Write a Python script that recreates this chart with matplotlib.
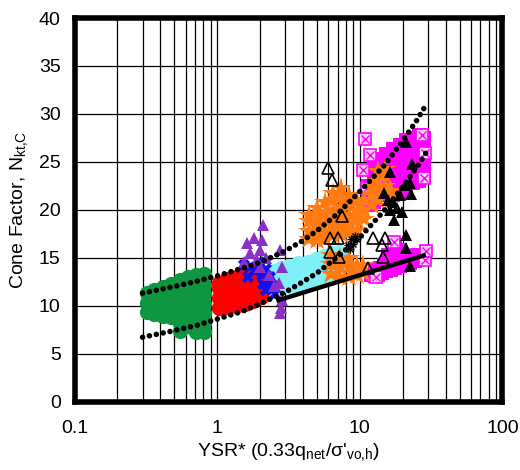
import numpy as np
import matplotlib
matplotlib.use("Agg")
import matplotlib.pyplot as plt
from matplotlib.ticker import LogLocator

plt.rcParams['font.family'] = ['Liberation Sans', 'DejaVu Sans']
plt.rcParams['mathtext.fontset'] = 'custom'
plt.rcParams['mathtext.rm'] = 'Liberation Sans'
plt.rcParams['mathtext.default'] = 'regular'

# site data, grouped as (YSR*, [N_kt,C values]) columns
green_cols = [
    (0.32, [9.3, 10.3, 11.3]),
    (0.36, [9.1, 10.1, 11.1, 11.6]),
    (0.416, [8.9, 9.9, 10.9, 11.9]),
    (0.474, [8.8, 9.8, 10.8, 11.8, 12.3]),
    (0.55, [7.4, 8.2, 9.2, 10.2, 11.2, 12.2, 12.7]),
    (0.62, [7.9, 8.6, 9.3, 10.3, 11.3, 12.3, 13.0]),
    (0.71, [7.3, 8.1, 9.1, 10.1, 11.1, 12.1, 13.2]),
    (0.81, [7.3, 8.2, 9.2, 10.2, 11.2, 12.2, 13.3]),
]
red_cols = [
    (1.03, [9.8, 10.8, 11.8, 12.4]),
    (1.18, [9.9, 10.9, 11.9, 12.8]),
    (1.36, [10.0, 11.0, 12.0, 13.0]),
    (1.56, [10.2, 11.2, 12.2, 13.1]),
    (1.79, [10.5, 11.5, 12.5, 13.5]),
    (2.02, [10.9, 11.9, 12.9]),
]
cyan_cols = [
    (2.5, [12.8, 13.6]),
    (2.8, [12.2, 13.0, 13.9]),
    (3.2, [12.0, 12.9, 14.1]),
    (3.7, [12.1, 13.1, 14.4]),
    (4.3, [12.3, 13.3, 14.6]),
    (4.9, [12.5, 13.5, 14.9]),
    (5.6, [12.8, 13.8, 15.2]),
    (6.4, [13.3, 14.3, 15.5]),
    (7.2, [14.5, 15.6]),
]
orange_cols = [
    (4.4, [17.0, 17.8, 18.8, 19.5]),
    (5.0, [16.8, 17.6, 18.6, 19.6, 20.2]),
    (5.7, [17.0, 17.8, 18.8, 19.8, 20.8]),
    (6.5, [17.4, 18.2, 19.0, 20.0, 21.0, 21.8]),
    (7.4, [17.5, 18.3, 19.3, 20.3, 21.3, 22.3]),
    (8.4, [17.7, 18.5, 19.5, 20.5, 21.5]),
    (9.5, [17.9, 18.9, 19.9, 20.9]),
    (10.7, [19.0, 20.0, 21.0]),
    (12.2, [20.5, 21.5, 22.5]),
    (13.5, [21.0, 22.0, 23.0, 24.0]),
    (15.0, [21.5, 22.5, 23.5, 24.3]),
    (16.5, [21.0, 22.0]),
    (6.3, [13.3, 14.3, 15.3]),
    (7.3, [13.0, 14.0, 15.0]),
    (8.4, [13.0, 14.0, 15.0]),
    (9.6, [13.2, 14.2]),
    (10.6, [13.4, 14.2]),
]
magenta_cols = [
    (11.5, [20.5, 21.5, 22.5]),
    (12.5, [20.8, 21.8, 22.8, 23.8, 24.8]),
    (13.8, [21.5, 22.5, 23.5, 24.5, 25.3]),
    (15.3, [21.5, 22.5, 23.5, 24.5, 25.5, 25.8]),
    (17.0, [21.5, 22.5, 23.5, 24.5, 25.5, 26.3]),
    (19.0, [21.8, 22.8, 24.0, 25.0, 26.0, 26.8]),
    (21.2, [22.3, 23.5, 24.5, 25.5, 26.5, 27.3]),
    (23.5, [22.8, 23.8, 24.8, 25.8, 26.8, 27.5]),
    (26.0, [23.0, 24.0, 25.0, 26.0, 27.0, 27.8]),
    (28.0, [23.5, 24.5, 25.5, 26.5, 27.5]),
]
magenta_low_cols = [
    (11.8, [13.1]),
    (12.6, [13.0, 13.8]),
    (13.6, [13.1, 14.0]),
    (14.6, [13.3, 14.3]),
    (15.6, [13.5, 14.5, 15.4]),
    (16.8, [13.6, 14.6, 15.6]),
    (18.0, [13.8, 14.8, 15.8, 16.4]),
    (19.5, [14.0, 15.0, 15.9]),
    (21.0, [14.1, 15.1]),
    (22.8, [14.3, 15.3]),
    (24.8, [14.5, 15.4]),
    (27.0, [14.8, 15.4]),
]
boxed_x = [10.8, 11.8, 10.5, 11.2, 27.5, 28.5, 28.0, 28.5, 29.0, 17.5, 13.0]
boxed_y = [27.4, 25.7, 24.1, 22.3, 27.8, 25.9, 23.3, 14.8, 15.7, 16.6, 13.0]

blue_x = [1.55, 1.7, 1.85, 1.95, 2.05, 2.2, 2.3, 2.45, 2.2, 2.55, 2.35, 1.65, 2.1]
blue_y = [14.2, 14.0, 13.6, 14.6, 13.2, 13.8, 12.6, 12.0, 11.6, 11.2, 13.0, 13.0, 12.3]

purple_x = [1.62, 1.8, 1.7, 2.0, 2.1, 2.05, 1.9, 2.2, 2.0, 2.77, 2.84, 2.7, 2.84,
            2.77, 2.8, 2.5, 1.55, 2.3]
purple_y = [16.5, 17.1, 15.5, 15.8, 18.4, 16.8, 14.8, 15.0, 14.0, 15.8, 14.0, 12.4,
            10.6, 9.2, 9.8, 12.0, 14.5, 13.2]

tri_x = [21.0, 23.2, 16.2, 22.4, 14.8, 23.0, 19.1, 17.1, 16.2, 17.4, 21.0, 21.0,
         22.4, 18.2, 15.8, 19.8, 20.6]
tri_y = [27.1, 24.8, 23.9, 22.8, 21.7, 21.6, 21.5, 20.8, 20.0, 18.9, 17.4, 16.0,
         14.1, 20.2, 21.0, 19.8, 22.6]

open_x = [6.0, 6.4, 7.5, 6.2, 7.0, 6.2, 7.2, 12.3, 14.9, 14.2, 14.6, 11.5]
open_y = [24.4, 23.1, 19.4, 17.1, 17.1, 15.6, 15.1, 17.1, 17.1, 16.3, 15.1, 13.9]

star_x = [8.2, 8.7, 9.2, 8.5, 9.0, 9.6]
star_y = [16.3, 16.9, 17.3, 15.9, 16.4, 16.9]

# bounding trends
upper_x = [0.3, 0.5, 0.7, 1, 1.5, 2, 3, 4, 5, 7, 10, 15, 20, 25, 29]
upper_y = [11.3, 12.0, 12.5, 13.1, 13.9, 14.5, 15.7, 16.8, 17.8, 19.6, 21.9, 24.7, 27.2, 29.3, 30.9]
lower_x = [0.3, 0.5, 0.7, 1, 1.5, 2, 3, 4, 5, 7, 10, 15, 20, 25, 29]
lower_y = [6.7, 7.4, 7.9, 8.6, 9.4, 10.2, 11.4, 12.5, 13.4, 15.1, 17.1, 20.0, 22.4, 24.4, 25.9]
line_x = [2.6, 29]
line_y = [10.5, 15.3]


def flat(cols):
    xs, ys = [], []
    for x, yy in cols:
        xs += [x] * len(yy)
        ys += yy
    return xs, ys


fig = plt.figure(figsize=(5.2, 4.7), dpi=100)
ax = fig.add_axes([0.1433, 0.1457, 0.823, 0.816])
ax.set_xscale('log')
ax.set_xlim(0.1, 100)
ax.set_ylim(0, 40)

gx, gy = flat(green_cols)
ax.plot(gx, gy, 'o', color='#0f9640', ms=11, mew=0, zorder=3)
rx, ry = flat(red_cols)
ax.plot(rx, ry, 'o', color='#ff0000', ms=11, mew=0, zorder=3)
cx, cy = flat(cyan_cols)
ax.plot(cx, cy, 'o', color='#80f0f8', ms=11, mew=0, zorder=3)
ax.plot(blue_x, blue_y, 'X', color='#1010f0', ms=9, mew=0, zorder=4)
ax.plot(purple_x, purple_y, '^', color='#8a2fc8', ms=9, mew=0, zorder=4)
mx, my = flat(magenta_cols)
ax.plot(mx, my, 's', color='#ff00ff', ms=10, mew=0, zorder=4)
lx, ly = flat(magenta_low_cols)
ax.plot(lx, ly, 's', color='#ff00ff', ms=9, mew=0, zorder=4)
ax.plot(boxed_x, boxed_y, 's', mfc='#fbd0fb', mec='#ff00ff', ms=8, mew=1.2, zorder=4)
ax.plot(boxed_x, boxed_y, 'x', color='#ff00ff', ms=6, mew=1.0, zorder=4)
ox, oy = flat(orange_cols)
ax.plot(ox, oy, '*', color='#ff7a10', ms=16, mew=0, zorder=5)
ax.plot(open_x, open_y, '^', mfc='none', mec='black', ms=9, mew=1.2, zorder=6)
ax.plot(tri_x, tri_y, '^', color='black', ms=8.5, mew=0, zorder=6)
ax.plot(star_x, star_y, '+', color='black', ms=6, mew=1.0, zorder=6)
ax.plot(star_x, star_y, 'x', color='black', ms=5, mew=1.0, zorder=6)

dots = dict(color='black', lw=4.0, linestyle=(0, (0.01, 1.25)),
            dash_capstyle='round', zorder=7)
ax.plot(upper_x, upper_y, **dots)
ax.plot(lower_x, lower_y, **dots)
ax.plot(line_x, line_y, color='black', lw=3.2, solid_capstyle='butt', zorder=7)

ax.set_xticks([0.1, 1, 10, 100], ['0.1', '1', '10', '100'])
ax.xaxis.set_minor_locator(LogLocator(base=10, subs=np.arange(2, 10)))
ax.set_yticks(range(0, 41, 5))
ax.grid(which='both', axis='x', color='black', lw=0.9, zorder=0)
ax.grid(which='major', axis='y', color='black', lw=0.9, zorder=0)
ax.set_axisbelow(True)
ax.tick_params(which='both', length=0, labelsize=14, colors='black')
ax.tick_params(axis='x', pad=13)
ax.tick_params(axis='y', pad=10)
for s in ax.spines.values():
    s.set_linewidth(4)
    s.set_zorder(10)

ax.set_xlabel("YSR* (0.33q$_{net}$/σ'$_{vo{,}h}$)", fontsize=14, labelpad=3)
ax.set_ylabel('Cone Factor, N$_{kt{,}C}$', fontsize=14, labelpad=6)

fig.savefig('out.png', dpi=100)
